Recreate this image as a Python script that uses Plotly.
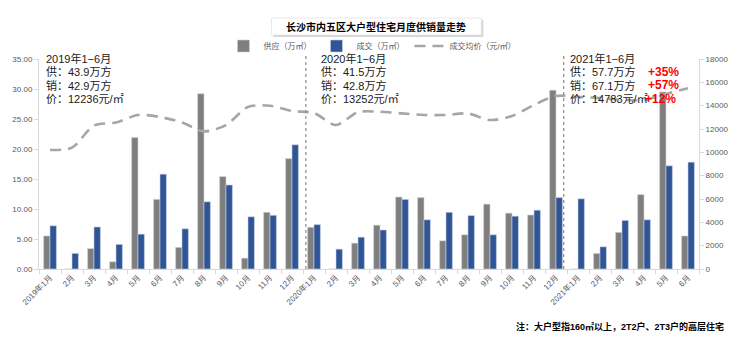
import plotly.graph_objects as go

# ---------------- data ----------------
months = ["2019年1月", "2月", "3月", "4月", "5月", "6月", "7月", "8月", "9月", "10月", "11月", "12月",
          "2020年1月", "2月", "3月", "4月", "5月", "6月", "7月", "8月", "9月", "10月", "11月", "12月",
          "2021年1月", "2月", "3月", "4月", "5月", "6月"]
supply = [5.5, 0, 3.4, 1.2, 21.9, 11.6, 3.6, 29.2, 15.4, 1.8, 9.45, 18.4,
          6.95, 0, 4.3, 7.3, 12.0, 11.9, 4.7, 5.7, 10.8, 9.3, 9.0, 29.8,
          0, 2.6, 6.1, 12.4, 29.5, 5.5]
sales = [7.2, 2.6, 7.0, 4.1, 5.8, 15.8, 6.7, 11.2, 14.0, 8.7, 8.95, 20.7,
         7.4, 3.3, 5.3, 6.5, 11.6, 8.2, 9.45, 8.9, 5.7, 8.8, 9.8, 11.9,
         11.7, 3.7, 8.1, 8.2, 17.2, 17.8]
price = [10200, 10400, 12300, 12560, 13200, 13030, 12550, 11800, 12340, 13890, 14000, 13540,
         13370, 12340, 13450, 13480, 13340, 13200, 13200, 13330, 12770, 13110, 14060, 14830,
         14750, 14650, 14500, 14500, 15000, 15500]

periods = ["2019年1-6月", "2020年1-6月", "2021年1-6月"]
period_supply = [43.9, 41.5, 57.7]
period_sales = [42.9, 42.8, 67.1]
period_price = [12236, 13252, 14783]
growth = ["+35%", "+57%", "+12%"]

title = "长沙市内五区大户型住宅月度供销量走势"
note = "注：大户型指160㎡以上，2T2户、2T3户的高层住宅"

# ---------------- layout helpers ----------------
W, H = 740, 341
L, R, T, B = 33, 40, 59, 72
PW, PH = W - L - R, H - T - B


def px(x):
    return (x - L) / PW


def py(y):
    return (H - B - y) / PH


FONT = "Liberation Sans, Arial, Noto Sans CJK SC"
xs = list(range(len(months)))

fig = go.Figure()
fig.add_trace(go.Bar(x=xs, y=supply, name="供应（万㎡）", marker=dict(color="#7f7f7f", line=dict(width=0.6, color="#d0d0d0"))))
fig.add_trace(go.Bar(x=xs, y=sales, name="成交（万㎡）", marker=dict(color="#2f5597", line=dict(width=0.6, color="#c8d0e0"))))
fig.add_trace(go.Scatter(x=xs, y=price, name="成交均价（元/㎡）", yaxis="y2", mode="lines",
                         line=dict(color="#a6a6a6", width=2.6, dash="11px,7px", shape="spline", smoothing=0.8)))

annotations = []
# title
annotations.append(dict(x=px(374), y=py(27), xref="paper", yref="paper", text="<b>" + title + "</b>",
                        showarrow=False, font=dict(size=10, color="#000000", family=FONT), xanchor="center", yanchor="middle"))
# period annotations
left_x = [38, 316, 568]
line_y = [58, 71.5, 85, 98.5]
for i in range(3):
    lines = [periods[i].replace("-", "−"),
             "供：%.1f万方" % period_supply[i],
             "销：%.1f万方" % period_sales[i],
             "价：%d元/㎡" % period_price[i]]
    for j, t in enumerate(lines):
        annotations.append(dict(x=px(left_x[i]), y=py(line_y[j]), xref="paper", yref="paper", text=t,
                                showarrow=False, xanchor="left", yanchor="middle",
                                font=dict(size=11, color="#1a1a1a", family=FONT)))
growth_x = [682, 682, 679]
for j, g in enumerate(growth):
    annotations.append(dict(x=px(growth_x[j]), y=py(line_y[j + 1]), xref="paper", yref="paper",
                            text="<b>" + g + "</b>", showarrow=False, xanchor="right", yanchor="middle",
                            font=dict(size=12, color="#ff0000", family=FONT)))
# footnote
annotations.append(dict(x=px(727), y=py(326), xref="paper", yref="paper", text="<b>" + note + "</b>",
                        showarrow=False, xanchor="right", yanchor="middle",
                        font=dict(size=9, color="#000000", family=FONT)))

shapes = [
    dict(type="rect", xref="paper", yref="paper", x0=px(270), x1=px(482), y0=py(37), y1=py(20),
         fillcolor="#d6d6d6", line=dict(width=0), layer="below"),
    dict(type="rect", xref="paper", yref="paper", x0=px(268), x1=px(480), y0=py(35), y1=py(18),
         fillcolor="#ffffff", line=dict(width=0.8, color="#e3e3e3"), layer="below"),
]
for xv in [11.63, 23.35]:
    shapes.append(dict(type="line", xref="x", yref="paper", x0=xv, x1=xv, y0=0, y1=py(56),
                       line=dict(color="#8c8c8c", width=1.2, dash="3px,3px")))

fig.update_layout(
    width=W, height=H,
    margin=dict(l=L, r=R, t=T, b=B),
    paper_bgcolor="white", plot_bgcolor="white",
    barmode="group", bargap=0.42, bargroupgap=0.0,
    font=dict(family=FONT, size=8, color="#595959"),
    showlegend=True,
    legend=dict(orientation="h", x=px(370), y=py(46), xanchor="center", yanchor="middle",
                font=dict(size=8, color="#595959", family=FONT), itemwidth=30,
                bgcolor="rgba(0,0,0,0)", tracegroupgap=0),
    xaxis=dict(range=[-0.5, len(months) - 0.5], tickmode="array", tickvals=xs, ticktext=months,
               tickangle=-45, showgrid=False, zeroline=False, showline=True, linecolor="#d9d9d9",
               linewidth=1, ticks="", tickfont=dict(size=8, color="#595959"),
               minor=dict(tick0=-0.5, dtick=1, ticks="outside", ticklen=4, tickcolor="#d9d9d9", showgrid=False)),
    yaxis=dict(range=[0, 35], dtick=5, tickformat=".2f", showgrid=False, zeroline=False,
               showline=True, linecolor="#d9d9d9", ticks="outside", ticklen=4, tickcolor="#d9d9d9",
               tickfont=dict(size=8, color="#595959")),
    yaxis2=dict(range=[0, 18000], dtick=2000, tickformat="d", overlaying="y", side="right", showgrid=False,
                zeroline=False, showline=True, linecolor="#d9d9d9", ticks="outside", ticklen=4,
                tickcolor="#d9d9d9", tickfont=dict(size=8, color="#595959")),
    annotations=annotations,
    shapes=shapes,
)

fig.write_html("out.html")
